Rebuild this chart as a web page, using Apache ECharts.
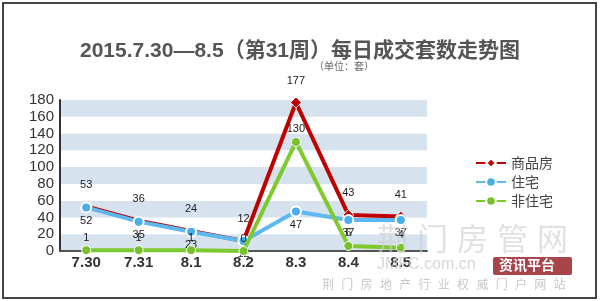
<!DOCTYPE html>
<html>
<head>
<meta charset="utf-8">
<script src="https://cdn.jsdelivr.net/npm/echarts@6/dist/echarts.min.js"></script>
<style>
  html, body { margin: 0; padding: 0; background: #fff; }
  #chart { width: 600px; height: 301px; }
</style>
</head>
<body>
<div id="chart"></div>
<script>
const days = ['7.30', '7.31', '8.1', '8.2', '8.3', '8.4', '8.5']
const commercial = [53, 36, 24, 12, 177, 43, 41]
const residential = [52, 35, 23, 12, 47, 37, 37]
const nonResidential = [1, 1, 1, 0, 130, 6, 4]

const chart = echarts.init(document.getElementById('chart'))

const labelStyle = { color: '#222', fontSize: 11, fontFamily: 'Arial, Liberation Sans, sans-serif' }

// faint site watermark, drawn character by character
const watermark = []
'荆门房管网'.split('').forEach((ch, i) => {
  watermark.push({
    type: 'text', left: 377 + i * 40, top: 223, z: 10, silent: true,
    style: { text: ch, fill: 'rgba(205,205,210,0.6)', font: '31px "Noto Sans CJK SC"' }
  })
})
'荆门房地产行业权威门户网站'.split('').forEach((ch, i) => {
  watermark.push({
    type: 'text', left: 322 + i * 19.3, top: 278, z: 10, silent: true,
    style: { text: ch, fill: 'rgba(185,185,190,0.8)', font: '12px "Noto Sans CJK SC"' }
  })
})

const option = {
  backgroundColor: '#fff',
  animation: false,
  title: {
    text: '2015.7.30—8.5（第31周）每日成交套数走势图',
    left: 'center',
    top: 36,
    textStyle: { color: '#555', fontSize: 21, fontWeight: 'bold', fontFamily: 'Arial, "Noto Sans CJK SC", sans-serif' }
  },
  legend: {
    orient: 'vertical',
    left: 470,
    top: 151,
    itemGap: 5,
    itemWidth: 30,
    itemHeight: 12,
    textStyle: { color: '#444', fontSize: 14, fontFamily: '"Noto Sans CJK SC", sans-serif' },
    data: ['商品房', '住宅', '非住宅']
  },
  grid: { left: 60, top: 100, width: 367, height: 151 },
  xAxis: {
    type: 'category',
    data: days,
    boundaryGap: true,
    axisLine: { lineStyle: { color: '#555', width: 2 } },
    axisTick: { show: false },
    axisLabel: { color: '#333', fontSize: 15, fontWeight: 'bold', margin: 4, fontFamily: 'Arial, Liberation Sans, sans-serif' }
  },
  yAxis: {
    type: 'value',
    min: 0,
    max: 180,
    interval: 20,
    axisLine: { show: true, lineStyle: { color: '#333', width: 2 } },
    axisTick: { show: false },
    splitLine: { show: false },
    splitArea: { show: true, areaStyle: { color: ['#d6e2ee', '#ffffff'] } },
    axisLabel: { color: '#333', fontSize: 15, margin: 6, fontFamily: 'Arial, Liberation Sans, sans-serif' }
  },
  series: [
    {
      name: '商品房',
      type: 'line',
      data: commercial,
      symbol: 'diamond',
      symbolSize: 11,
      itemStyle: { color: '#c00000', borderColor: '#fff', borderWidth: 1 },
      lineStyle: { color: '#c00000', width: 4 },
      label: { show: true, position: 'top', distance: 10, ...labelStyle },
      z: 3
    },
    {
      name: '住宅',
      type: 'line',
      data: residential,
      symbol: 'circle',
      symbolSize: 10,
      itemStyle: { color: '#4aaee8', borderColor: '#fff', borderWidth: 2 },
      lineStyle: { color: '#5db8f0', width: 4 },
      label: { show: true, position: 'bottom', distance: 2, ...labelStyle },
      z: 4
    },
    {
      name: '非住宅',
      type: 'line',
      data: nonResidential,
      symbol: 'circle',
      symbolSize: 9,
      itemStyle: { color: '#77c12a', borderColor: '#fff', borderWidth: 1 },
      lineStyle: { color: '#7dc92e', width: 4 },
      label: { show: true, position: 'top', distance: 2, ...labelStyle },
      z: 5
    }
  ],
  graphic: [
    {
      type: 'rect',
      shape: { x: 3, y: 3, width: 593, height: 295 },
      style: { fill: 'none', stroke: '#444', lineWidth: 2 },
      silent: true
    },
    {
      type: 'text',
      left: 314,
      top: 61,
      style: { text: '（单位：套）', fill: '#666', font: '10px "Noto Sans CJK SC"' }
    },
    ...watermark,
    {
      type: 'text',
      left: 377,
      top: 257,
      silent: true,
      style: { text: 'JMFC.com.cn', fill: 'rgba(200,200,205,0.75)', font: '16px Arial' },
      z: 10
    },
    {
      type: 'rect',
      shape: { x: 493, y: 257, width: 79, height: 18, r: 2 },
      style: { fill: '#a8444a' },
      z: 10
    },
    {
      type: 'text',
      left: 499,
      top: 258,
      style: { text: '资讯平台', fill: '#fff', font: 'bold 14px "Noto Sans CJK SC"' },
      z: 11
    }
  ]
}

chart.setOption(option)
</script>
</body>
</html>
